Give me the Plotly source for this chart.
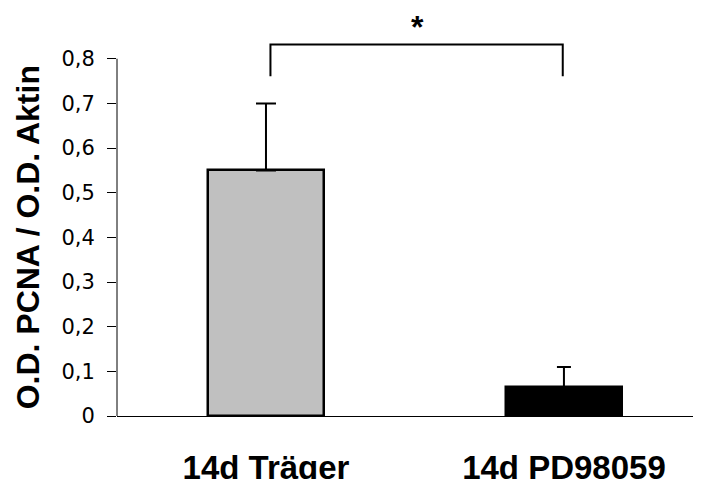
import plotly.graph_objects as go

categories = ["14d Träger", "14d PD98059"]
means = [0.55, 0.065]
err_plus = [0.15, 0.045]
bar_colors = ["#C0C0C0", "#000000"]
y_ticks = [0, 0.1, 0.2, 0.3, 0.4, 0.5, 0.6, 0.7, 0.8]
y_title = "O.D. PCNA / O.D. Aktin"
sig_label = "*"
bracket_left = 0.015
bracket_right = 0.996
bracket_top = 0.832
bracket_bottom = 0.761

FONT = "Liberation Sans, Arial, sans-serif"

fig = go.Figure()
cap_widths = [10, 7]
for i, cat in enumerate(categories):
    fig.add_trace(go.Bar(
        x=[cat], y=[means[i]],
        width=0.39,
        marker=dict(color=bar_colors[i], line=dict(color="black", width=2.5)),
        error_y=dict(type="data", symmetric=False, array=[err_plus[i]], arrayminus=[0],
                     color="black", thickness=2, width=cap_widths[i]),
        showlegend=False,
    ))

# significance bracket
fig.add_shape(type="path",
              path=f"M {bracket_left} {bracket_bottom} L {bracket_left} {bracket_top} "
                   f"L {bracket_right} {bracket_top} L {bracket_right} {bracket_bottom}",
              xref="x", yref="y", line=dict(color="black", width=2))
fig.add_annotation(x=0.507, y=0.871, xref="x", yref="y", text=f"<b>{sig_label}</b>",
                   showarrow=False, font=dict(family=FONT, size=32, color="black"),
                   yanchor="middle")

# y axis line only up to 0.8
fig.add_shape(type="line", x0=0, x1=0, xref="paper", y0=y_ticks[0], y1=y_ticks[-1], yref="y",
              line=dict(color="black", width=1))

# y axis title
fig.add_annotation(x=0, xref="paper", xshift=-89, y=0.4, yref="y", text=f"<b>{y_title}</b>",
                   textangle=-90, showarrow=False, xanchor="center", yanchor="middle",
                   font=dict(family=FONT, size=32, color="black"))

fig.update_layout(
    width=693, height=471,
    margin=dict(l=109, r=0, t=0, b=63),
    plot_bgcolor="white", paper_bgcolor="white",
    separators=", ",
    bargap=0,
    font=dict(family=FONT, color="black"),
    xaxis=dict(range=[-0.5, 1.46], showline=True, linecolor="black", linewidth=1,
               ticks="", showgrid=False, zeroline=False, automargin=False,
               tickfont=dict(family=FONT, size=33, color="black"),
               ticklabelstandoff=22,
               tickprefix="<b>", ticksuffix="</b>"),
    yaxis=dict(range=[0, 0.9136], tickvals=y_ticks, showline=False, showgrid=False,
               zeroline=False, ticks="outside", ticklen=9, tickwidth=1, tickcolor="black",
               tickfont=dict(family="DejaVu Sans, sans-serif", size=21, color="black"),
               ticklabelstandoff=8, automargin=False),
)

fig.write_html("out.html")
